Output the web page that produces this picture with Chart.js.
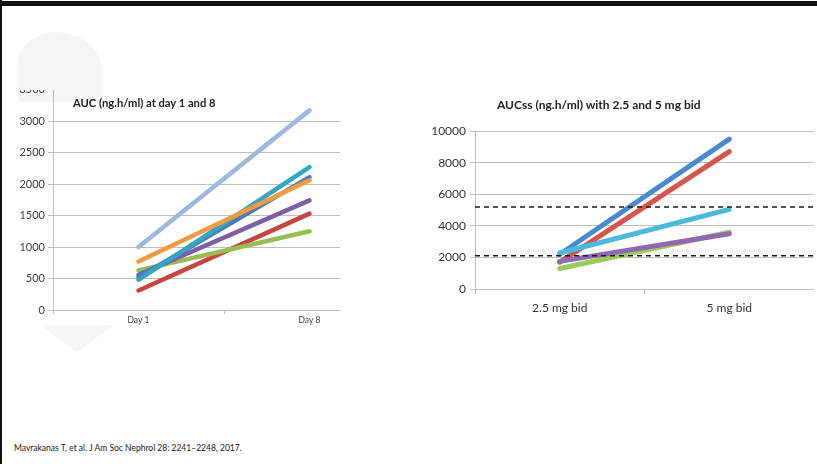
<!DOCTYPE html>
<html>
<head>
<meta charset="utf-8">
<script src="https://cdn.jsdelivr.net/npm/chart.js@4.4.1/dist/chart.umd.min.js"></script>
<style>
  html, body { margin: 0; padding: 0; background: #fff; }
  body { width: 817px; height: 464px; position: relative; overflow: hidden; font-family: "Lato", "Open Sans", sans-serif; }
  .abs { position: absolute; }
  #topbar { left: 0; top: 1px; width: 817px; height: 5px; background: #111; }
  #leftbar { left: 0; top: 0; width: 2px; height: 464px; background: #111; }
  #wm1 { left: 18px; top: 32px; width: 84px; height: 70px; background: #f5f5f5; border-radius: 45% 55% 0 0; }
  #wm2 { left: 40px; top: 325px; width: 0; height: 0; border-left: 37px solid transparent; border-right: 37px solid transparent; border-top: 27px solid #f6f6f6; }
  #leftClip { left: 0; top: 90px; width: 340px; height: 250px; overflow: hidden; }
  #leftClip canvas { position: absolute; left: 0; top: -10px; }
  #rightWrap { left: 422px; top: 120px; width: 392px; height: 199px; }
  .title { font-weight: bold; color: #222; white-space: nowrap; }
  #t1 { left: 73px; top: 96px; font-size: 11.2px; }
  #t2 { left: 497px; top: 97px; font-size: 12px; }
  #foot { left: 14px; top: 443px; font-size: 8.5px; color: #222; white-space: nowrap; }
</style>
</head>
<body>
<div class="abs" id="wm1"></div>
<div class="abs" id="wm2"></div>
<div class="abs" id="leftClip"><canvas id="c1" width="395" height="260" style="width:395px;height:260px"></canvas></div>
<div class="abs" id="rightWrap"><canvas id="c2" width="392" height="199" style="width:392px;height:199px"></canvas></div>
<div class="abs title" id="t1">AUC (ng.h/ml) at day 1 and 8</div>
<div class="abs title" id="t2">AUCss (ng.h/ml) with 2.5 and 5 mg bid</div>
<div class="abs" id="foot">Mavrakanas T, et al. J Am Soc Nephrol 28: 2241–2248, 2017.</div>
<div class="abs" id="topbar"></div>
<div class="abs" id="leftbar"></div>
<script>
// ---- Left chart data ----
const dayLabels = ["Day 1", "Day 8"];
const leftLightBlue = [1000, 3170];
const leftRed = [310, 1530];
const leftGreen = [630, 1250];
const leftPurple = [560, 1740];
const leftBlue = [520, 2110];
const leftTeal = [480, 2270];
const leftOrange = [770, 2060];
const leftTicks = [0, 500, 1000, 1500, 2000, 2500, 3000, 3500];

// ---- Right chart data ----
const doseLabels = ["2.5 mg bid", "5 mg bid"];
const rightBlue = [2200, 9500];
const rightRed = [1700, 8700];
const rightGreen = [1300, 3600];
const rightPurple = [1750, 3500];
const rightCyan = [2280, 5050];
const rightThresholds = [2100, 5200];
const rightTicks = [0, 2000, 4000, 6000, 8000, 10000];

Chart.defaults.font.family = "Lato, 'Open Sans', sans-serif";
Chart.defaults.animation = false;

function ds(data, color, w) {
  return { data, borderColor: color, backgroundColor: color, borderWidth: w, pointRadius: 0, borderCapStyle: 'round', tension: 0, fill: false };
}
const plain = v => String(v);

// Chart.js draws dataset 0 on top, so list top-most first
new Chart(document.getElementById('c1'), {
  type: 'line',
  data: {
    labels: dayLabels,
    datasets: [
      ds(leftOrange, '#F59A3E', 4.5),
      ds(leftTeal, '#33A6C2', 4.5),
      ds(leftBlue, '#4A7DBA', 4.5),
      ds(leftPurple, '#7D5FA5', 4.5),
      ds(leftGreen, '#97BE4E', 4.5),
      ds(leftRed, '#C9453F', 4.5),
      ds(leftLightBlue, '#9DB9E0', 4.5)
    ]
  },
  options: {
    responsive: false,
    layout: { padding: { top: 9.5, right: 0, left: 0, bottom: 0 } },
    plugins: { legend: { display: false }, tooltip: { enabled: false } },
    scales: {
      x: {
        offset: true,
        afterFit: s => { s.height = 30; },
        grid: { display: true, drawOnChartArea: false, drawTicks: true, tickLength: 4, color: '#BFBFBF', offset: true },
        border: { display: true, color: '#BFBFBF' },
        ticks: { font: { size: 8.5 }, color: '#404040', padding: 1 }
      },
      y: {
        min: 0, max: 3500,
        afterFit: s => { s.width = 53; },
        afterBuildTicks: s => { s.ticks = leftTicks.map(v => ({ value: v })); },
        grid: { color: '#BFBFBF', tickLength: 5, lineWidth: 1 },
        border: { display: true, color: '#BFBFBF' },
        ticks: { font: { size: 11 }, color: '#404040', padding: 3, callback: plain }
      }
    }
  }
});

const dashPlugin = {
  id: 'dashLines',
  afterDatasetsDraw(chart) {
    const { ctx, chartArea, scales } = chart;
    ctx.save();
    ctx.strokeStyle = '#1a1a1a';
    ctx.lineWidth = 1.5;
    ctx.setLineDash([5, 4]);
    rightThresholds.forEach(v => {
      const y = scales.y.getPixelForValue(v);
      ctx.beginPath();
      ctx.moveTo(chartArea.left, y);
      ctx.lineTo(chartArea.right, y);
      ctx.stroke();
    });
    ctx.restore();
  }
};

new Chart(document.getElementById('c2'), {
  type: 'line',
  data: {
    labels: doseLabels,
    datasets: [
      ds(rightCyan, '#48BBDD', 5),
      ds(rightPurple, '#9068B5', 5),
      ds(rightGreen, '#9BCB5A', 5),
      ds(rightBlue, '#4A8AD0', 5),
      ds(rightRed, '#D9534F', 5)
    ]
  },
  plugins: [dashPlugin],
  options: {
    responsive: false,
    layout: { padding: { top: 10, right: 0, left: 0, bottom: 0 } },
    plugins: { legend: { display: false }, tooltip: { enabled: false } },
    scales: {
      x: {
        offset: true,
        afterFit: s => { s.height = 30; },
        grid: { display: true, drawOnChartArea: false, drawTicks: true, tickLength: 5, color: '#BFBFBF', offset: true },
        border: { display: true, color: '#BFBFBF' },
        ticks: { font: { size: 12 }, color: '#333', padding: 7 }
      },
      y: {
        min: 0, max: 10000,
        afterFit: s => { s.width = 53; },
        afterBuildTicks: s => { s.ticks = rightTicks.map(v => ({ value: v })); },
        grid: { color: '#BFBFBF', tickLength: 5, lineWidth: 1 },
        border: { display: true, color: '#BFBFBF' },
        ticks: { font: { size: 12 }, color: '#333', padding: 4, callback: plain }
      }
    }
  }
});
</script>
</body>
</html>
